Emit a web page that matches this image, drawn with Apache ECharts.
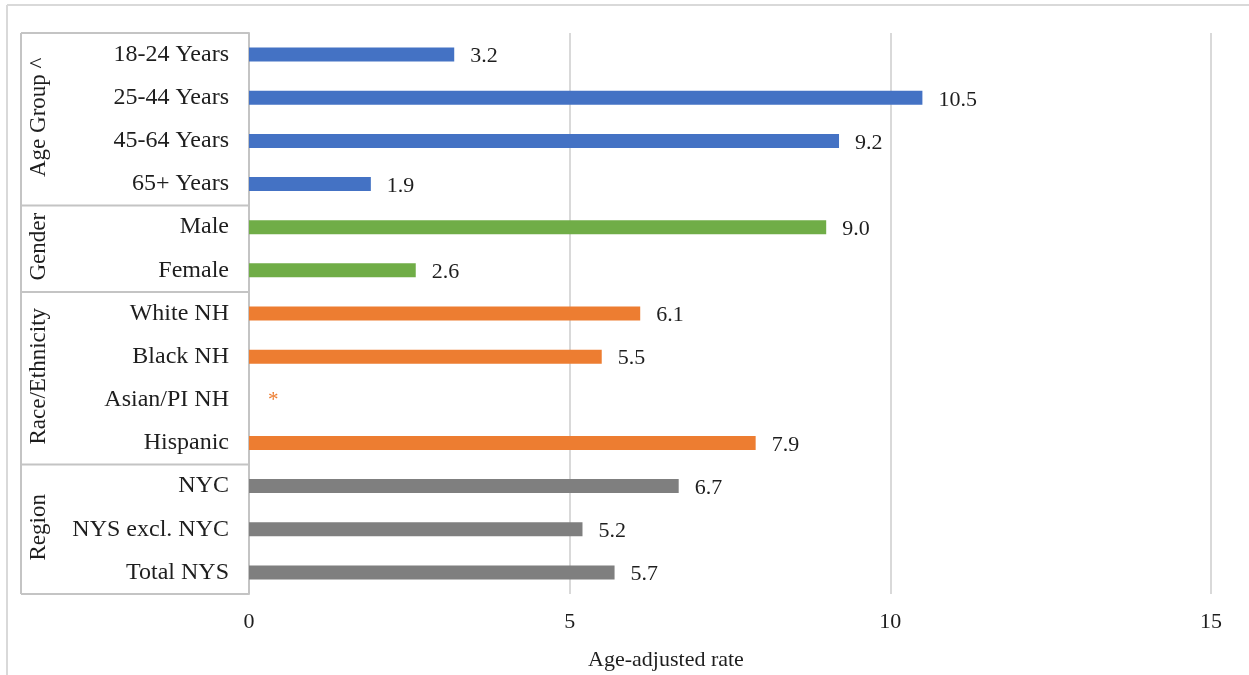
<!DOCTYPE html>
<html>
<head>
<meta charset="utf-8">
<script src="https://cdn.jsdelivr.net/npm/echarts@6/dist/echarts.min.js"></script>
<style>
html,body{margin:0;padding:0;background:#fff;}
#chart{width:1249px;height:675px;}
</style>
</head>
<body>
<div id="chart"></div>
<script>
// ---- data ----
const categories = ['18-24 Years','25-44 Years','45-64 Years','65+ Years','Male','Female','White NH','Black NH','Asian/PI NH','Hispanic','NYC','NYS excl. NYC','Total NYS'];
const values = [3.2, 10.5, 9.2, 1.9, 9.0, 2.6, 6.1, 5.5, null, 7.9, 6.7, 5.2, 5.7];
const groupNames = ['Age Group ^', 'Gender', 'Race/Ethnicity', 'Region'];
const groupSizes = [4, 2, 4, 3];
const xTicks = [0, 5, 10, 15];
const axisTitle = 'Age-adjusted rate';
const suppressedMark = '*';

// ---- styles ----
const groupColors = ['#4472C4', '#70AD47', '#ED7D31', '#7F7F7F'];
const FONT = "'Liberation Serif','Times New Roman',serif";
const TEXT = '#1e1e1e';
const LINE = '#c4c4c4';

const itemColors = [];
groupSizes.forEach((n, g) => { for (let i = 0; i < n; i++) itemColors.push(groupColors[g]); });

const seriesData = values.map((v, i) => {
  if (v === null) {
    return {
      value: 0,
      itemStyle: { color: itemColors[i] },
      label: { formatter: suppressedMark, color: itemColors[i], fontSize: 21, distance: 19, offset: [0, 1] }
    };
  }
  return { value: v, itemStyle: { color: itemColors[i] } };
});

const chart = echarts.init(document.getElementById('chart'), null, { renderer: 'canvas' });

const option = {
  backgroundColor: '#fff',
  animation: false,
  grid: { left: 249, right: 38, top: 33, bottom: 81, containLabel: false },
  xAxis: {
    type: 'value',
    min: xTicks[0],
    max: xTicks[xTicks.length - 1],
    interval: xTicks[1] - xTicks[0],
    axisLine: { show: false },
    axisTick: { show: false },
    splitLine: { show: true, lineStyle: { color: '#d9d9d9', width: 2 } },
    axisLabel: { color: TEXT, fontFamily: FONT, fontSize: 22, margin: 17 }
  },
  yAxis: {
    type: 'category',
    data: categories,
    inverse: true,
    axisLine: { show: true, lineStyle: { color: LINE, width: 2 } },
    axisTick: { show: false },
    splitLine: { show: false },
    axisLabel: { color: TEXT, fontFamily: FONT, fontSize: 24, margin: 20, align: 'right', padding: [4, 0, 0, 0] }
  },
  series: [{
    type: 'bar',
    data: seriesData,
    barWidth: 14,
    label: {
      show: true,
      position: 'right',
      distance: 16,
      offset: [0, 2],
      color: TEXT,
      fontFamily: FONT,
      fontSize: 22,
      formatter: p => (typeof p.value === 'number' ? p.value.toFixed(1) : '')
    }
  }]
};
chart.setOption(option);

// ---- category group table drawn from axis positions ----
function drawTable() {
  const y0 = chart.convertToPixel({ yAxisIndex: 0 }, 0);
  const y1 = chart.convertToPixel({ yAxisIndex: 0 }, 1);
  const band = y1 - y0;
  const axisX = chart.convertToPixel({ xAxisIndex: 0 }, 0);
  const tableLeft = 21;
  const graphics = [];
  // outer frame
  graphics.push({ type: 'line', shape: { x1: 7, y1: 5, x2: 1249, y2: 5 }, style: { stroke: '#d9d9d9', lineWidth: 2 }, silent: true });
  graphics.push({ type: 'line', shape: { x1: 7, y1: 5, x2: 7, y2: 675 }, style: { stroke: '#d9d9d9', lineWidth: 2 }, silent: true });
  const top = y0 - band / 2;
  const bottom = chart.convertToPixel({ yAxisIndex: 0 }, categories.length - 1) + band / 2;
  graphics.push({ type: 'line', shape: { x1: tableLeft, y1: top, x2: tableLeft, y2: bottom }, style: { stroke: LINE, lineWidth: 2 }, silent: true });
  let idx = 0;
  const bounds = [top];
  groupSizes.forEach((n, g) => {
    const start = idx, end = idx + n - 1;
    const gTop = chart.convertToPixel({ yAxisIndex: 0 }, start) - band / 2;
    const gBot = chart.convertToPixel({ yAxisIndex: 0 }, end) + band / 2;
    bounds.push(gBot);
    graphics.push({
      type: 'text',
      x: 39, y: (gTop + gBot) / 2 - 2,
      rotation: Math.PI / 2,
      style: { text: groupNames[g], font: '23px ' + FONT, fill: TEXT, align: 'center', verticalAlign: 'middle' },
      silent: true
    });
    idx += n;
  });
  bounds.forEach(b => {
    graphics.push({ type: 'line', shape: { x1: tableLeft, y1: b, x2: axisX, y2: b }, style: { stroke: LINE, lineWidth: 2 }, silent: true });
  });
  // axis title
  graphics.push({
    type: 'text', x: 666, y: 660,
    style: { text: axisTitle, font: '22px ' + FONT, fill: TEXT, align: 'center', verticalAlign: 'middle' },
    silent: true
  });
  chart.setOption({ graphic: graphics });
}
drawTable();
</script>
</body>
</html>
